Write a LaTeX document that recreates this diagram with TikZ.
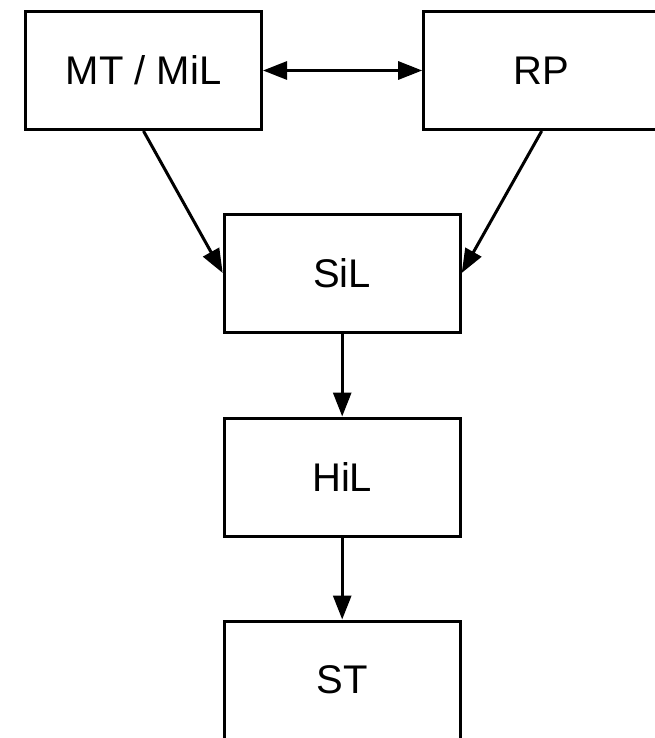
\documentclass[tikz,border=0pt]{standalone}
\usepackage{fontspec}
\setmainfont{Liberation Sans}
\usetikzlibrary{arrows.meta}
\begin{document}
\begin{tikzpicture}[x=1pt,y=-1pt,
  stage/.style={draw=black, line width=3pt, minimum width=236pt, minimum height=118pt,
    inner sep=0pt, font=\fontsize{40}{48}\selectfont},
  tip/.style={Triangle[length=24pt,width=18pt]},
  link/.style={line width=3pt, -{Triangle[length=24pt,width=18pt]}},
  dlink/.style={line width=3pt, {Triangle[length=24pt,width=18pt]}-{Triangle[length=24pt,width=18pt]}}]
  \useasboundingbox (0,0) rectangle (654,738);
  \node[stage] (mt)  at (143.5,70.5) {MT / MiL};
  \node[stage] (rp)  at (541.7,70.5) {RP};
  \node[stage] (sil) at (342.2,273) {SiL};
  \node[stage] (hil) at (342.2,477) {HiL};
  \node[stage] (st)  at (342.2,680) {ST};
  \draw[dlink] (mt) -- (rp);
  \draw[link] (mt.south) -- (sil.west);
  \draw[link] (rp.south) -- (sil.east);
  \draw[link] (sil) -- (hil);
  \draw[link] (hil) -- (st);
\end{tikzpicture}
\end{document}
